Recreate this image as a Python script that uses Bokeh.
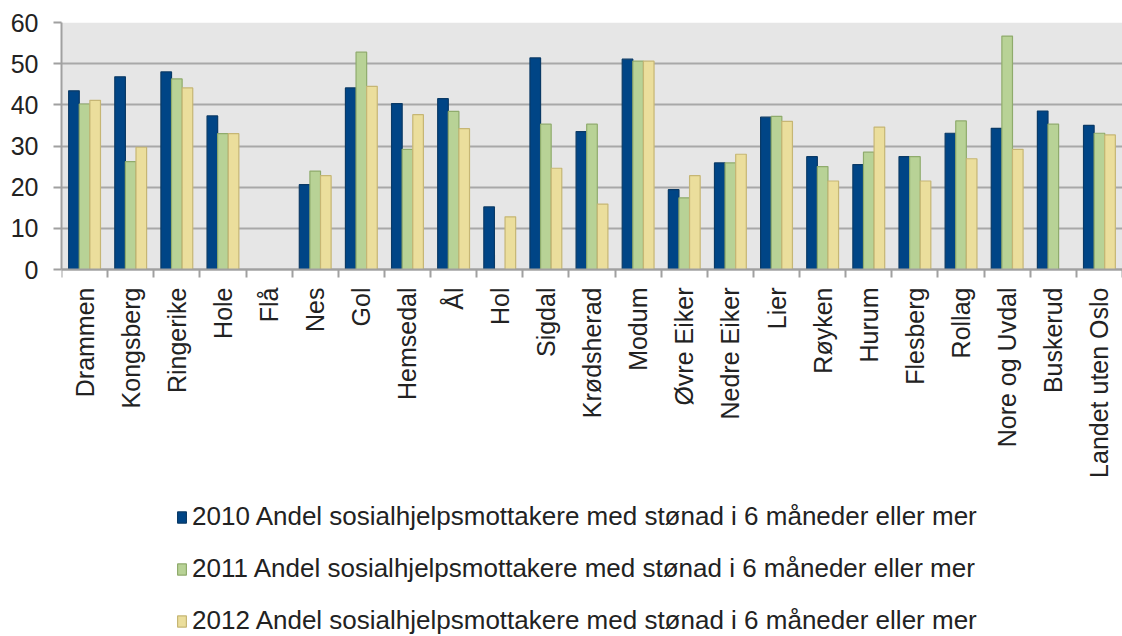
from bokeh.plotting import figure
from bokeh.models import (ColumnDataSource, Range1d, FixedTicker, Legend, LegendItem,
                          BoxAnnotation)
from bokeh.embed import file_html
from bokeh.resources import INLINE
import math

nan = float("nan")

kommuner = ["Drammen", "Kongsberg", "Ringerike", "Hole", "Flå", "Nes", "Gol",
            "Hemsedal", "Ål", "Hol", "Sigdal", "Krødsherad", "Modum",
            "Øvre Eiker", "Nedre Eiker", "Lier", "Røyken", "Hurum", "Flesberg",
            "Rollag", "Nore og Uvdal", "Buskerud", "Landet uten Oslo"]

andel_2010 = [43.4, 46.8, 48.0, 37.3, nan, 20.6, 44.1, 40.3, 41.5, 15.2, 51.4,
              33.5, 51.1, 19.4, 25.9, 37.0, 27.4, 25.5, 27.4, 33.1, 34.3, 38.5, 35.0]
andel_2011 = [40.2, 26.2, 46.3, 33.0, nan, 23.9, 52.8, 29.2, 38.4, nan, 35.3,
              35.3, 50.6, 17.4, 25.9, 37.2, 25.0, 28.5, 27.4, 36.1, 56.7, 35.3, 33.1]
andel_2012 = [41.1, 29.7, 44.1, 33.0, nan, 22.8, 44.5, 37.6, 34.2, 12.8, 24.6,
              15.9, 50.6, 22.8, 28.0, 36.0, 21.5, 34.6, 21.5, 26.9, 29.2, nan, 32.7]

serie_navn = ["2010 Andel sosialhjelpsmottakere med stønad i 6 måneder eller mer",
              "2011 Andel sosialhjelpsmottakere med stønad i 6 måneder eller mer",
              "2012 Andel sosialhjelpsmottakere med stønad i 6 måneder eller mer"]
y_ticks = [0, 10, 20, 30, 40, 50, 60]
y_min, y_max = 0, 60

fills = ["#004586", "#b8d296", "#ebde9c"]
lines = ["#0a3a66", "#8fab6c", "#c6b674"]

FONT = "Liberation Sans"
n = len(kommuner)
idx = list(range(n))

# geometry: plot area 247 px tall for 0..60, frame continues below to hold labels + legend
FRAME_H = 614
AREA_H = 247
y_start = y_max - (y_max - y_min) * FRAME_H / AREA_H

p = figure(width=1122, height=636, frame_width=1061, frame_height=FRAME_H,
           output_backend="svg", toolbar_location=None,
           x_range=Range1d(-0.5, n - 0.5), y_range=Range1d(y_start, y_max),
           min_border_left=61, min_border_top=22, min_border_right=0,
           min_border_bottom=0)
p.border_fill_color = "white"
p.background_fill_color = "white"
p.outline_line_color = None

# grey plot area 0..60
p.add_layout(BoxAnnotation(bottom=y_min, top=y_max, fill_color="#e6e6e6",
                           fill_alpha=1.0, line_color=None, level="image"))

bw = 0.23
offsets = [-bw, 0.0, bw]
series = [andel_2010, andel_2011, andel_2012]
renderers = []
for k, vals in enumerate(series):
    src = ColumnDataSource(dict(x=[i + offsets[k] for i in idx], top=vals))
    r = p.vbar(x="x", top="top", width=bw, bottom=0, source=src,
               fill_color=fills[k], line_color=lines[k], line_width=1.2)
    renderers.append(r)

# y axis
p.yaxis.ticker = FixedTicker(ticks=y_ticks)
p.yaxis.bounds = (y_min, y_max)
p.yaxis.major_label_text_font = FONT
p.yaxis.major_label_text_font_size = "25px"
p.yaxis.major_label_text_color = "#222222"
p.yaxis.major_label_standoff = 15
p.yaxis.axis_line_color = "#a0a0a0"
p.yaxis.axis_line_width = 2
p.yaxis.major_tick_line_color = "#a0a0a0"
p.yaxis.major_tick_line_width = 2
p.yaxis.major_tick_out = 8
p.yaxis.major_tick_in = 0
p.yaxis.minor_tick_line_color = None

# x axis at y = 0: names at centres, ticks at boundaries
p.xaxis.fixed_location = 0
p.xaxis.ticker = FixedTicker(ticks=idx, minor_ticks=[i - 0.5 for i in range(n + 1)])
p.xaxis.major_label_overrides = {i: name for i, name in enumerate(kommuner)}
p.xaxis.major_label_orientation = math.pi / 2
p.xaxis.major_label_text_font = FONT
p.xaxis.major_label_text_font_size = "25px"
p.xaxis.major_label_text_color = "#222222"
p.xaxis.major_label_standoff = 10
p.xaxis.major_tick_line_color = None
p.xaxis.major_tick_out = 8
p.xaxis.major_tick_in = 0
p.xaxis.minor_tick_line_color = "#a0a0a0"
p.xaxis.minor_tick_line_width = 2
p.xaxis.minor_tick_out = 8
p.xaxis.minor_tick_in = 0
p.xaxis.axis_line_color = "#a0a0a0"
p.xaxis.axis_line_width = 2

p.xgrid.grid_line_color = None
p.ygrid.grid_line_color = "#a8a8a8"
p.ygrid.grid_line_width = 2

legend = Legend(items=[LegendItem(label=serie_navn[k], renderers=[renderers[k]])
                       for k in range(3)],
                location=(115, 0), orientation="vertical",
                padding=0, margin=0, spacing=21,
                glyph_width=11, glyph_height=14, label_standoff=5,
                label_text_font=FONT, label_text_font_size="26px",
                label_text_color="#222222",
                border_line_color=None, background_fill_alpha=0)
p.add_layout(legend, "center")

open("out.html", "w").write(file_html(p, INLINE))
